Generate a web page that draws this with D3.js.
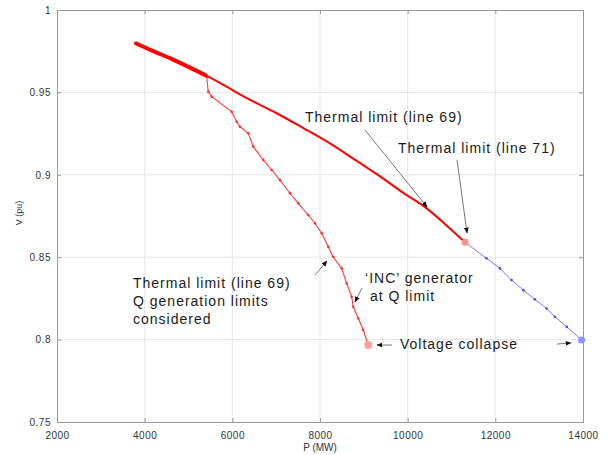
<!DOCTYPE html>
<html>
<head>
<meta charset="utf-8">
<script src="https://cdn.jsdelivr.net/npm/d3@7"></script>
<style>
body { margin: 0; background: #fff; }
svg { display: block; font-family: "Liberation Sans", Arial, sans-serif; }
.tick text { font-size: 10px; fill: #333; letter-spacing: 0.5px; }
.note { font-size: 14px; fill: #1a1a1a; letter-spacing: 1px; }
</style>
</head>
<body>
<script>
// series without Q generation limits (red) up to thermal limit of line 71
const mainP = [3780, 4200, 4600, 5000, 5420, 5900, 6330, 7000, 7610, 8200, 8750, 9370, 9900, 10440, 10900, 11310];
const mainV = [0.980, 0.975, 0.9705, 0.9655, 0.960, 0.953, 0.9465, 0.9375, 0.9285, 0.9195, 0.910, 0.899, 0.889, 0.8795, 0.869, 0.859];

// continuation beyond line 71 limit (blue)
const blueP = [11310, 11800, 12105, 12370, 12640, 12900, 13170, 13360, 13630, 13970];
const blueV = [0.859, 0.8493, 0.8432, 0.8361, 0.8300, 0.8244, 0.8189, 0.8138, 0.8077, 0.7997];

// Q generation limits considered (red, thin)
const qP = [3780, 4200, 4600, 5000, 5415, 5451, 5529, 5985, 6099, 6174, 6364, 6478, 6706, 6898, 7087, 7315, 7504, 7732, 7885, 8038, 8188, 8302, 8494, 8608, 8722, 8759, 8873, 8987, 9101];
const qV = [0.980, 0.975, 0.9705, 0.9655, 0.9595, 0.9504, 0.9474, 0.9383, 0.9322, 0.9292, 0.9252, 0.9170, 0.9090, 0.9029, 0.8968, 0.8888, 0.8827, 0.8756, 0.8706, 0.8645, 0.8563, 0.8502, 0.8432, 0.8341, 0.8260, 0.8199, 0.8129, 0.8058, 0.7967];

const xTicks = [2000, 4000, 6000, 8000, 10000, 12000, 14000];
const yTicks = [0.75, 0.8, 0.85, 0.9, 0.95, 1];

// annotations: text lines at (tp, tv), arrow from (ap0, av0) to (ap1, av1)
const notes = [
    { lines: ['Thermal limit (line 69)'], tp: 7658, tv: 0.932, arrows: [[9027, 0.9272, 10441, 0.8805]] },
    { lines: ['Thermal limit (line 71)'], tp: 9780, tv: 0.9132, arrows: [[11126, 0.909, 11354, 0.8647]] },
    { lines: ['Thermal limit (line 69)', 'Q generation limits', 'considered'], tp: 3734, tv: 0.8313, arrows: [[7886, 0.8392, 8160, 0.8477]] },
    { lines: ['\u2018INC\u2019 generator', ' at Q limit'], tp: 9027, tv: 0.8343, arrows: [[8958, 0.8313, 8798, 0.8228]] },
    { lines: ['Voltage collapse'], tp: 9825, tv: 0.7943, arrows: [[9643, 0.7967, 9300, 0.7967], [13407, 0.7973, 13726, 0.798]] },
];

function plot()
{
    const W = 612, H = 455;
    const left = 57, right = 583, top = 10, bottom = 422;
    const svg = d3.select('body').append('svg')
        .attr('width', W).attr('height', H);

    const x = d3.scaleLinear().domain([2000, 14000]).range([left, right]);
    const y = d3.scaleLinear().domain([0.75, 1]).range([bottom, top]);

    // grid
    const grid = svg.append('g').attr('stroke', '#e6e6e6').attr('stroke-width', 1);
    grid.selectAll('.gx').data(xTicks.slice(1, -1)).enter().append('line')
        .attr('x1', d => x(d)).attr('x2', d => x(d)).attr('y1', top).attr('y2', bottom);
    grid.selectAll('.gy').data(yTicks.slice(1, -1)).enter().append('line')
        .attr('x1', left).attr('x2', right).attr('y1', d => y(d)).attr('y2', d => y(d));

    // axes
    const fmtY = d => d === 1 ? '1' : d3.format('.2~f')(d);
    const ax = svg.append('g').attr('transform', `translate(0,${bottom})`)
        .call(d3.axisBottom(x).tickValues(xTicks).tickSize(-4).tickPadding(10).tickFormat(d3.format('d')));
    const ay = svg.append('g').attr('transform', `translate(${left},0)`)
        .call(d3.axisLeft(y).tickValues(yTicks).tickSize(-4).tickPadding(6).tickFormat(fmtY));
    const axTop = svg.append('g').attr('transform', `translate(0,${top})`)
        .call(d3.axisTop(x).tickValues(xTicks).tickSize(-4).tickFormat(''));
    const ayRight = svg.append('g').attr('transform', `translate(${right},0)`)
        .call(d3.axisRight(y).tickValues(yTicks).tickSize(-4).tickFormat(''));
    [ax, ay, axTop, ayRight].forEach(g => {
        g.select('.domain').attr('stroke', '#999');
        g.selectAll('.tick line').attr('stroke', '#999');
    });

    svg.append('text').attr('x', x(8000)).attr('y', 451)
        .attr('text-anchor', 'middle').attr('font-size', 10).attr('fill', '#333')
        .text('P (MW)');
    svg.append('text').attr('transform', 'translate(22,213) rotate(-90)')
        .attr('text-anchor', 'middle').attr('font-size', 9).attr('fill', '#333')
        .text('V (pu)');

    const line = d3.line().x(d => x(d[0])).y(d => y(d[1]));
    const smooth = d3.line().x(d => x(d[0])).y(d => y(d[1])).curve(d3.curveMonotoneX);
    const mainData = mainP.map((p, i) => [p, mainV[i]]);
    const blueData = blueP.map((p, i) => [p, blueV[i]]);
    const qData = qP.map((p, i) => [p, qV[i]]);

    svg.append('path').attr('d', line(blueData))
        .attr('fill', 'none').attr('stroke', '#7a7aff').attr('stroke-width', 1);
    svg.selectAll('.bd').data(blueData).enter().append('circle')
        .attr('cx', d => x(d[0])).attr('cy', d => y(d[1])).attr('r', 1.3).attr('fill', '#4a4aff');

    svg.append('path').attr('d', line(qData))
        .attr('fill', 'none').attr('stroke', '#ff3a3a').attr('stroke-width', 1.1);
    svg.selectAll('.qd').data(qData).enter().append('circle')
        .attr('cx', d => x(d[0])).attr('cy', d => y(d[1])).attr('r', 1.2).attr('fill', '#ff2020');

    svg.append('path').attr('d', smooth(mainData.slice(0, 5)))
        .attr('fill', 'none').attr('stroke', '#ff0000').attr('stroke-width', 4);
    svg.append('path').attr('d', smooth(mainData))
        .attr('fill', 'none').attr('stroke', '#ff0000').attr('stroke-width', 2);

    // end markers
    const mEnd = mainData[mainData.length - 1];
    svg.append('circle').attr('cx', x(mEnd[0])).attr('cy', y(mEnd[1])).attr('r', 3.5)
        .attr('fill', '#ff9090');
    const qEnd = qData[qData.length - 1];
    svg.append('circle').attr('cx', x(qEnd[0])).attr('cy', y(qEnd[1])).attr('r', 4)
        .attr('fill', '#ffa0a0');
    const bEnd = blueData[blueData.length - 1];
    svg.append('circle').attr('cx', x(bEnd[0])).attr('cy', y(bEnd[1])).attr('r', 3.5)
        .attr('fill', '#9090ff');

    // annotations
    svg.append('defs').append('marker')
        .attr('id', 'head').attr('viewBox', '0 0 10 10').attr('refX', 9).attr('refY', 5)
        .attr('markerWidth', 6).attr('markerHeight', 6).attr('markerUnits', 'userSpaceOnUse')
        .attr('orient', 'auto')
        .append('path').attr('d', 'M0,1 L10,5 L0,9 Z').attr('fill', '#111');

    notes.forEach(n => {
        const t = svg.append('text').attr('class', 'note')
            .attr('x', x(n.tp)).attr('y', y(n.tv));
        n.lines.forEach((s, i) => {
            t.append('tspan').attr('x', x(n.tp)).attr('dy', i === 0 ? 0 : 18)
                .attr('xml:space', 'preserve').text(s);
        });
        n.arrows.forEach(a => {
            svg.append('line')
                .attr('x1', x(a[0])).attr('y1', y(a[1]))
                .attr('x2', x(a[2])).attr('y2', y(a[3]))
                .attr('stroke', '#555').attr('stroke-width', 0.8)
                .attr('marker-end', 'url(#head)');
        });
    });
}

plot();
</script>
</body>
</html>
